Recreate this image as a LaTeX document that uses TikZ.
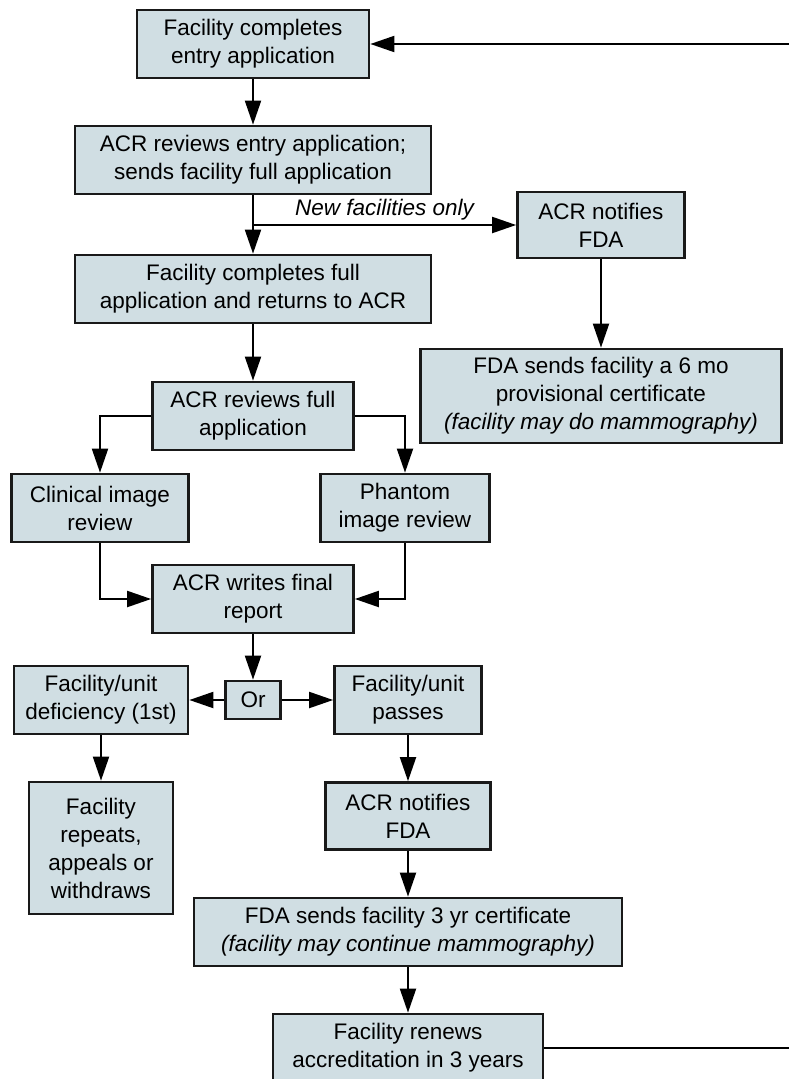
\documentclass[tikz,border=0pt]{standalone}
\usepackage{fontspec}
\setmainfont{Liberation Sans}
\usetikzlibrary{arrows.meta,positioning}
\definecolor{boxBlue}{RGB}{208,222,227}

\begin{document}
\begin{tikzpicture}[x=1pt,y=-1pt,
    stepbox/.style={draw=black!90,line width=2.7pt,fill=boxBlue,minimum height=68pt,
                    align=center,inner sep=2pt,font=\fontsize{22.5}{28}\selectfont},
    flow/.style={line width=2pt,-{Triangle[length=24pt,width=16pt]}}
]
\useasboundingbox (0,0) rectangle (789,1079);
\clip (0,0) rectangle (789,1079);

\node[stepbox,minimum width=232pt] (entryApp) at (253,44) {Facility completes\\entry application};
\node[stepbox,minimum width=356pt] (entryReview) at (253,160) {ACR reviews entry application;\\sends facility full application};
\node[stepbox,minimum width=356pt] (fullApp) at (253,289) {Facility completes full\\application and returns to ACR};
\node[stepbox,minimum width=167pt,minimum height=66pt] (notifyNew) at (601,225) {ACR notifies\\FDA};
\node[stepbox,minimum width=361pt,minimum height=94pt] (provCert) at (601,396) {FDA sends facility a 6 mo\\provisional certificate\\\textit{(facility may do mammography)}};
\node[stepbox,minimum width=201pt] (fullReview) at (253,416) {ACR reviews full\\application};
\node[stepbox,minimum width=177pt] (clinical) at (100,508) {Clinical image\\review};
\node[stepbox,minimum width=169pt] (phantom) at (405,508) {Phantom\\image review};
\node[stepbox,minimum width=201pt] (finalReport) at (253,599) {ACR writes final\\report};
\node[stepbox,minimum width=55pt,minimum height=38pt] (orBox) at (253,700) {Or};
\node[stepbox,minimum width=174pt] (deficiency) at (101,700) {Facility/unit\\deficiency (1st)};
\node[stepbox,minimum width=147pt] (passes) at (408,700) {Facility/unit\\passes};
\node[stepbox,minimum width=144pt,minimum height=132pt] (repeats) at (101,848) {Facility\\repeats,\\appeals or\\withdraws};
\node[stepbox,minimum width=165pt,minimum height=67pt] (notifyFDA) at (408,816) {ACR notifies\\FDA};
\node[stepbox,minimum width=428pt] (fullCert) at (408,932) {FDA sends facility 3 yr certificate\\\textit{(facility may continue mammography)}};
\node[stepbox,minimum width=270pt] (renews) at (408,1048) {Facility renews\\accreditation in 3 years};

\coordinate (newOnly) at (entryReview.south |- notifyNew.west);
\coordinate (loopBack) at (820,1048);

\draw[flow] (entryApp) -- (entryReview);
\draw[flow] (entryReview) -- (fullApp);
\draw[flow] (newOnly) -- node[above=1pt,font=\fontsize{22.5}{28}\selectfont\itshape] (newLabel) {New facilities only} (notifyNew);
\draw[flow] (notifyNew) -- (provCert);
\draw[flow] (fullApp) -- (fullReview);
\draw[flow] (fullReview.west) -| (clinical.north);
\draw[flow] (fullReview.east) -| (phantom.north);
\draw[flow] (clinical.south) |- (finalReport.west);
\draw[flow] (phantom.south) |- (finalReport.east);
\draw[flow] (finalReport) -- (orBox);
\draw[flow] (orBox) -- (deficiency);
\draw[flow] (orBox) -- (passes);
\draw[flow] (deficiency) -- (repeats);
\draw[flow] (passes) -- (notifyFDA);
\draw[flow] (notifyFDA) -- (fullCert);
\draw[flow] (fullCert) -- (renews);
\draw[flow] (renews.east) -- (loopBack) |- (entryApp.east);
\end{tikzpicture}
\end{document}
